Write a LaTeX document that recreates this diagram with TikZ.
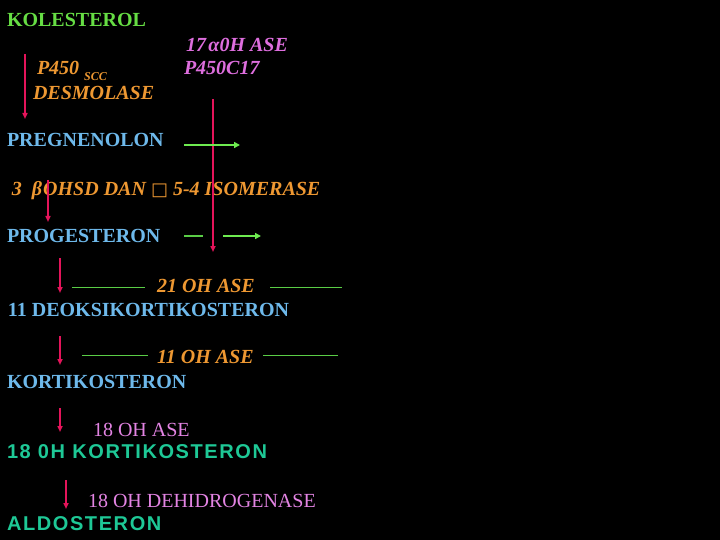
\documentclass[tikz,border=0pt]{standalone}
\usepackage{fontspec}
\setmainfont{Liberation Serif}
\newfontfamily\arialfont[LetterSpace=8]{Liberation Sans}
\newfontfamily\kotakfont{DejaVu Sans}
\usepackage{xcolor}
\usetikzlibrary{arrows.meta}

\definecolor{hijau}{RGB}{102,221,68}
\definecolor{biru}{RGB}{110,185,235}
\definecolor{jingga}{RGB}{238,152,50}
\definecolor{ungu}{RGB}{222,110,222}
\definecolor{merah}{RGB}{228,20,90}
\definecolor{tosca}{RGB}{30,200,150}
\definecolor{panah}{RGB}{110,235,80}
\definecolor{garis}{RGB}{90,205,70}

\begin{document}
\begin{tikzpicture}[x=1pt,y=-1pt,
    every node/.style={anchor=base west,inner sep=0pt,outer sep=0pt},
    hormon/.style={text=biru,font=\fontsize{20}{24}\selectfont\bfseries},
    enzim/.style={text=jingga,font=\fontsize{20}{24}\selectfont\bfseries\itshape},
    enzimungu/.style={text=ungu,font=\fontsize{20}{24}\selectfont\bfseries\itshape},
    enzimtegak/.style={text=ungu!85!white,font=\fontsize{20}{24}\selectfont},
    akhir/.style={text=tosca,font=\fontsize{20}{24}\arialfont\bfseries},
    reaksi/.style={-{Triangle[length=6pt,width=5pt]},merah,line width=1.6pt},
    cabang/.style={-{Triangle[length=6pt,width=6pt]},panah,line width=1.8pt},
    batas/.style={garis,line width=1pt}]

    \fill[black] (0,0) rectangle (720,540);
    \useasboundingbox (0,0) rectangle (720,540);

    % senyawa
    \node[hormon,text=hijau] (kol) at (7,27) {KOLESTEROL};
    \node[hormon] (preg) at (7,147) {PREGNENOLON};
    \node[hormon] (prog) at (7,243) {PROGESTERON};
    \node[hormon] (doc) at (8,316) {11 DEOKSIKORTIKOSTERON};
    \node[hormon] (kort) at (7,388) {KORTIKOSTERON};
    \node[akhir] (ohk) at (7,458) {18 0H KORTIKOSTERON};
    \node[akhir] (aldo) at (7,530) {ALDOSTERON};

    % enzim
    \node[enzim] (scc) at (37,75) {P450 {\fontsize{12}{14}\selectfont\raisebox{-6pt}{SCC}}};
    \node[enzim] (desmo) at (33,100) {DESMOLASE};
    \node[enzimungu] (ase17) at (186,52) {17$\,$\kern-1pt α0H ASE};
    \node[enzimungu] (c17) at (184,75) {P450C17};
    \node[enzim] (hsd) at (12,196) {3\enspace β\kern1pt OHSD DAN {\kotakfont\fontsize{18}{20}\selectfont□}\ 5-4 ISOMERASE};
    \node[enzim] (ase21) at (157,292) {21 OH ASE};
    \node[enzim] (ase11) at (157,363) {11 OH ASE};
    \node[enzimtegak] (ase18) at (93,436) {18 OH ASE};
    \node[enzimtegak] (dehid) at (88,507) {18 OH DEHIDROGENASE};

    % ujung panah
    \coordinate (r1a) at (25,54);   \coordinate (r1b) at (25,119);
    \coordinate (r2a) at (48,180);  \coordinate (r2b) at (48,222);
    \coordinate (r3a) at (60,258);  \coordinate (r3b) at (60,293);
    \coordinate (r4a) at (60,336);  \coordinate (r4b) at (60,365);
    \coordinate (r5a) at (60,408);  \coordinate (r5b) at (60,432);
    \coordinate (r6a) at (66,480);  \coordinate (r6b) at (66,509);
    \coordinate (r7a) at (213,99);  \coordinate (r7b) at (213,252);

    \draw[reaksi] (r1a) -- (r1b);
    \draw[reaksi] (r2a) -- (r2b);
    \draw[reaksi] (r3a) -- (r3b);
    \draw[reaksi] (r4a) -- (r4b);
    \draw[reaksi] (r5a) -- (r5b);
    \draw[reaksi] (r6a) -- (r6b);
    \draw[reaksi] (r7a) -- (r7b);

    % cabang hijau
    \coordinate (g1a) at (184,145); \coordinate (g1b) at (240,145);
    \coordinate (g2a) at (184,236); \coordinate (g2b) at (203,236);
    \coordinate (g3a) at (223,236); \coordinate (g3b) at (261,236);
    \draw[cabang] (g1a) -- (g1b);
    \draw[batas,line width=1.2pt] (g2a) -- (g2b);
    \draw[cabang] (g3a) -- (g3b);

    \coordinate (b1a) at (72,287);  \coordinate (b1b) at (145,287);
    \coordinate (b2a) at (270,287); \coordinate (b2b) at (342,287);
    \coordinate (b3a) at (82,355);  \coordinate (b3b) at (148,355);
    \coordinate (b4a) at (263,355); \coordinate (b4b) at (338,355);
    \draw[batas] (b1a) -- (b1b);
    \draw[batas] (b2a) -- (b2b);
    \draw[batas] (b3a) -- (b3b);
    \draw[batas] (b4a) -- (b4b);
  \end{tikzpicture}
\end{document}
